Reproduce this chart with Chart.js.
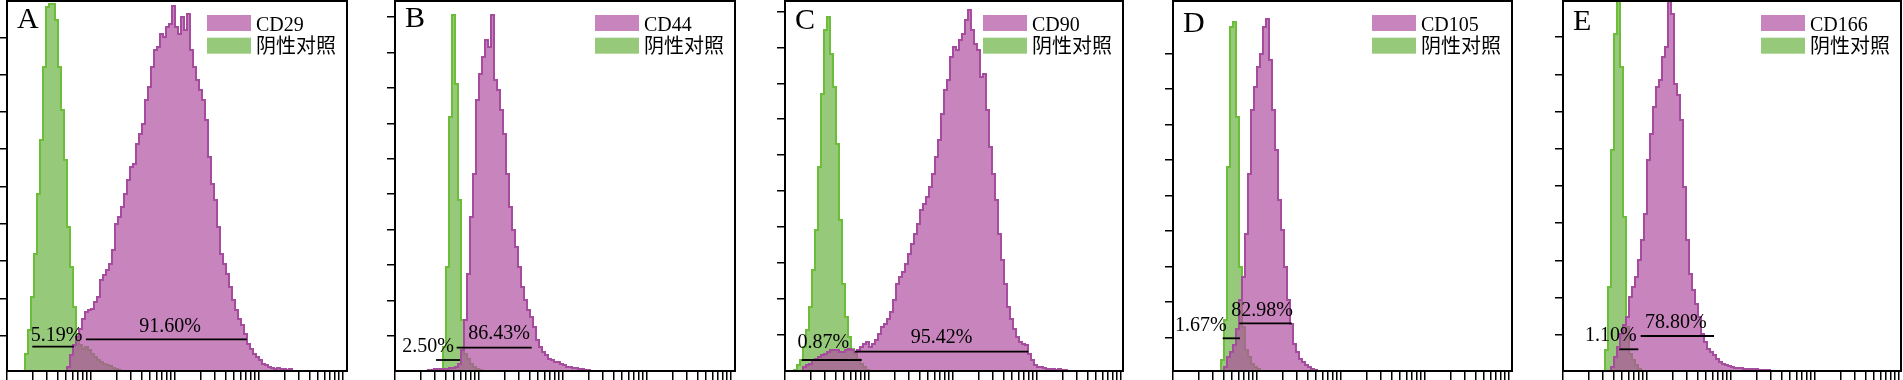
<!DOCTYPE html>
<html><head><meta charset="utf-8">
<script src="https://cdn.jsdelivr.net/npm/chart.js@4.4.1/dist/chart.umd.min.js"></script>
<style>
html,body{margin:0;padding:0;background:#fff;width:1903px;height:380px;overflow:hidden;position:relative;}
canvas{position:absolute;top:0;}
</style></head><body>
<script>
// ---------- data ----------
const BINS_PER_DECADE = 28;              // histogram channels per log decade
const panelLetters = ["A", "B", "C", "D", "E"];
const markers = ["CD29", "CD44", "CD90", "CD105", "CD166"];
const controlLabel = "阴性对照";

// stained sample histograms (first channel index, counts per channel)
const cd29Start = 19;
const cd29Counts = [0,4,16,26,34,42,52,59,61,62,69,74,91,96,101,107,121,147,154,164,177,191,204,207,227,237,247,271,284,304,321,324,337,334,344,347,365,344,337,354,341,357,321,304,291,281,271,251,214,187,171,144,117,107,97,84,71,61,52,46,37,27,22,17,14,11,7,6,4,3,2,3,2,2,1,2,0];
const cd44Start = 10;
const cd44Counts = [0,1,1,2,2,2,2,2,3,3,4,7,21,51,97,154,197,271,297,314,331,324,356,291,281,261,237,197,164,141,124,104,84,71,61,54,44,31,24,19,16,12,11,9,9,7,6,4,4,3,3,2,2,1,1,0];
const cd90Start = 5;
const cd90Counts = [0,4,6,7,11,12,14,16,17,19,21,21,21,19,19,21,22,21,19,21,24,27,29,24,27,31,37,44,47,52,59,71,87,94,99,107,117,127,137,147,161,167,174,184,197,214,231,257,281,291,314,324,321,331,337,351,361,341,327,321,294,297,261,224,197,171,137,111,87,64,52,42,34,29,27,26,17,11,6,4,4,3,2,2,2,1,2,1,1,0];
const cd105Start = 16;
const cd105Counts = [0,4,14,19,26,42,71,94,137,197,261,284,304,317,344,352,311,261,221,171,141,104,71,47,27,19,12,9,6,4,2,1,0];
const cd166Start = 15;
const cd166Counts = [0,4,14,24,37,46,54,74,84,94,111,131,157,211,237,264,284,291,314,324,370,357,287,276,251,184,131,97,81,67,54,37,29,22,19,16,12,9,7,6,5,4,3,3,3,2,2,2,2,2,1,1,1,1,0];

// negative control histograms
const negAStart = 5;
const negACounts = [0,17,41,74,117,177,231,304,364,367,367,351,304,261,211,144,104,64,37,26,22,24,21,17,14,11,9,7,6,5,3,2,1,0];
const negBStart = 14;
const negBCounts = [0,2,24,104,254,356,287,171,51,17,12,7,4,2,1,0];
const negCStart = 2;
const negCCounts = [0,1,6,11,24,41,64,101,141,204,277,341,354,317,284,227,151,87,54,34,22,17,12,7,4,1,0];
const negDStart = 15;
const negDCounts = [0,11,51,204,344,349,254,104,44,21,14,7,4,2,0];
const negEStart = 13;
const negECounts = [0,21,84,221,337,370,304,154,44,17,11,6,2,0];

// gates: [from, to] in fluorescence units, level in counts
const negPercent = ["5.19%", "2.50%", "0.87%", "1.67%", "1.10%"];
const posPercent = ["91.60%", "86.43%", "95.42%", "82.98%", "78.80%"];
const negGateX = [[2.0, 6.28], [3.08, 5.94], [1.58, 8.19], [3.9, 6.28], [4.68, 7.88]];
const negGateY = [24.3, 11, 11, 32.7, 21.7];
const posGateX = [[8.7, 714], [5.42, 42.4], [6.81, 788], [6.16, 25.9], [8.41, 62.8]];
const posGateY = [31.7, 23.3, 19.3, 47.7, 35];
const negLabelAt = [[3.9, 30.3], [2.47, 19.3], [2.86, 22.7], [2.15, 40], [3.71, 30]];
const posLabelAt = [[87.2, 39.3], [17.3, 31.7], [73.3, 27.7], [11.5, 55], [22.0, 42.7]];

// axes
const xMin = 1;
const xMaxes = [11160, 11160, 10570, 10860, 10570];
const yMax = 370;
const yTickFirst = [35.3, 35.3, 36.7, 33.3, 36.3];
const yTickStep = [37.3, 35.4, 35.85, 35.5, 37.2];
const yTickCount = [9, 10, 10, 9, 9];

// ---------- layout / style ----------
const panelLeft = [7, 395, 785, 1173, 1563];
const panelRight = [347, 735, 1123, 1512, 1901];
const letterBaseline = [28, 27, 29, 32, 30];
const SERIF = "'Liberation Serif','Times New Roman',serif";
const CJK = "'Liberation Serif','Noto Sans CJK SC',sans-serif";
const purpleFill = 'rgba(176,80,160,0.70)';
const purpleLine = 'rgb(166,76,158)';
const greenFill = 'rgba(110,180,70,0.72)';
const greenLine = 'rgb(108,190,58)';

const samples = [
  [cd29Start, cd29Counts], [cd44Start, cd44Counts], [cd90Start, cd90Counts],
  [cd105Start, cd105Counts], [cd166Start, cd166Counts]
];
const controls = [
  [negAStart, negACounts], [negBStart, negBCounts], [negCStart, negCCounts],
  [negDStart, negDCounts], [negEStart, negECounts]
];

function toPoints(start, counts) {
  return counts.map((v, i) => ({ x: Math.pow(10, (start + i) / BINS_PER_DECADE), y: v }));
}
const xTickValues = [];
for (let k = 0; k < 4; k++) for (let m = 1; m <= 9; m++) xTickValues.push(m * Math.pow(10, k));
xTickValues.push(10000);

const panelPlugin = {
  id: 'panelDecor',
  afterDraw(chart) {
    const p = chart.options.panelIndex;
    const ctx = chart.ctx, a = chart.chartArea;
    const xs = chart.scales.x, ys = chart.scales.y;
    ctx.save();
    // frame
    ctx.strokeStyle = '#000'; ctx.lineWidth = 2;
    ctx.strokeRect(a.left, a.top, a.right - a.left, a.bottom - a.top);
    // panel letter
    ctx.fillStyle = '#000';
    ctx.font = '30px ' + SERIF;
    ctx.textAlign = 'left'; ctx.textBaseline = 'alphabetic';
    ctx.fillText(panelLetters[p], a.left + 10, letterBaseline[p]);
    // legend
    const ds = chart.data.datasets;
    const sx = a.right - 140;
    [0, 1].forEach((di, row) => {
      const sy = 15 + row * 22.7;
      ctx.fillStyle = '#fff'; ctx.fillRect(sx, sy, 44, 16);
      ctx.fillStyle = ds[di].backgroundColor; ctx.fillRect(sx, sy, 44, 16);
      ctx.fillStyle = '#000';
      ctx.font = '20px ' + (row === 0 ? SERIF : CJK);
      ctx.fillText(ds[di].label, sx + 49, sy + 15.5);
    });
    // gate percentages
    ctx.font = '20px ' + SERIF;
    ctx.textAlign = 'center';
    [[negLabelAt[p], negPercent[p]], [posLabelAt[p], posPercent[p]]].forEach(([pos, txt]) => {
      ctx.fillText(txt, xs.getPixelForValue(pos[0]), ys.getPixelForValue(pos[1]));
    });
    ctx.restore();
  }
};

function makePanel(p) {
  const c = document.createElement('canvas');
  const left = panelLeft[p] - 10;
  const w = panelRight[p] - panelLeft[p] + 12;
  c.width = w; c.height = 380;
  c.style.left = left + 'px'; c.style.width = w + 'px'; c.style.height = '380px';
  document.body.appendChild(c);
  const yTicks = [];
  for (let i = 0; i < yTickCount[p]; i++) yTicks.push(yTickFirst[p] + i * yTickStep[p]);
  new Chart(c, {
    type: 'line',
    data: {
      datasets: [
        { label: markers[p], data: toPoints(samples[p][0], samples[p][1]), stepped: true, fill: 'origin',
          backgroundColor: purpleFill, borderColor: purpleLine, borderWidth: 2, pointRadius: 0, order: 1 },
        { label: controlLabel, data: toPoints(controls[p][0], controls[p][1]), stepped: true, fill: 'origin',
          backgroundColor: greenFill, borderColor: greenLine, borderWidth: 2, pointRadius: 0, order: 2 },
        { label: 'gate-neg', data: [{ x: negGateX[p][0], y: negGateY[p] }, { x: negGateX[p][1], y: negGateY[p] }],
          borderColor: '#000', borderWidth: 1.8, fill: false, pointRadius: 0, order: 0 },
        { label: 'gate-pos', data: [{ x: posGateX[p][0], y: posGateY[p] }, { x: posGateX[p][1], y: posGateY[p] }],
          borderColor: '#000', borderWidth: 1.8, fill: false, pointRadius: 0, order: 0 }
      ]
    },
    options: {
      panelIndex: p,
      responsive: false, animation: false, devicePixelRatio: 1,
      layout: { padding: { left: 2, right: 2, top: 1, bottom: 0 } },
      plugins: { legend: { display: false }, tooltip: { enabled: false } },
      scales: {
        x: {
          type: 'logarithmic', min: xMin, max: xMaxes[p],
          border: { display: true, width: 2, color: '#000' },
          grid: { drawOnChartArea: false, drawTicks: true, tickLength: 9, color: '#000', lineWidth: 1.5 },
          ticks: { display: false },
          afterBuildTicks: s => { s.ticks = xTickValues.map(v => ({ value: v })); },
          afterFit: s => { s.height = 9; }
        },
        y: {
          type: 'linear', min: 0, max: yMax,
          border: { display: true, width: 2, color: '#000' },
          grid: { drawOnChartArea: false, drawTicks: true, tickLength: 8, color: '#000', lineWidth: 1.5 },
          ticks: { display: false },
          afterBuildTicks: s => { s.ticks = yTicks.map(v => ({ value: v })); },
          afterFit: s => { s.width = 8; }
        }
      }
    },
    plugins: [panelPlugin]
  });
}
for (let p = 0; p < 5; p++) makePanel(p);
</script>
</body></html>
